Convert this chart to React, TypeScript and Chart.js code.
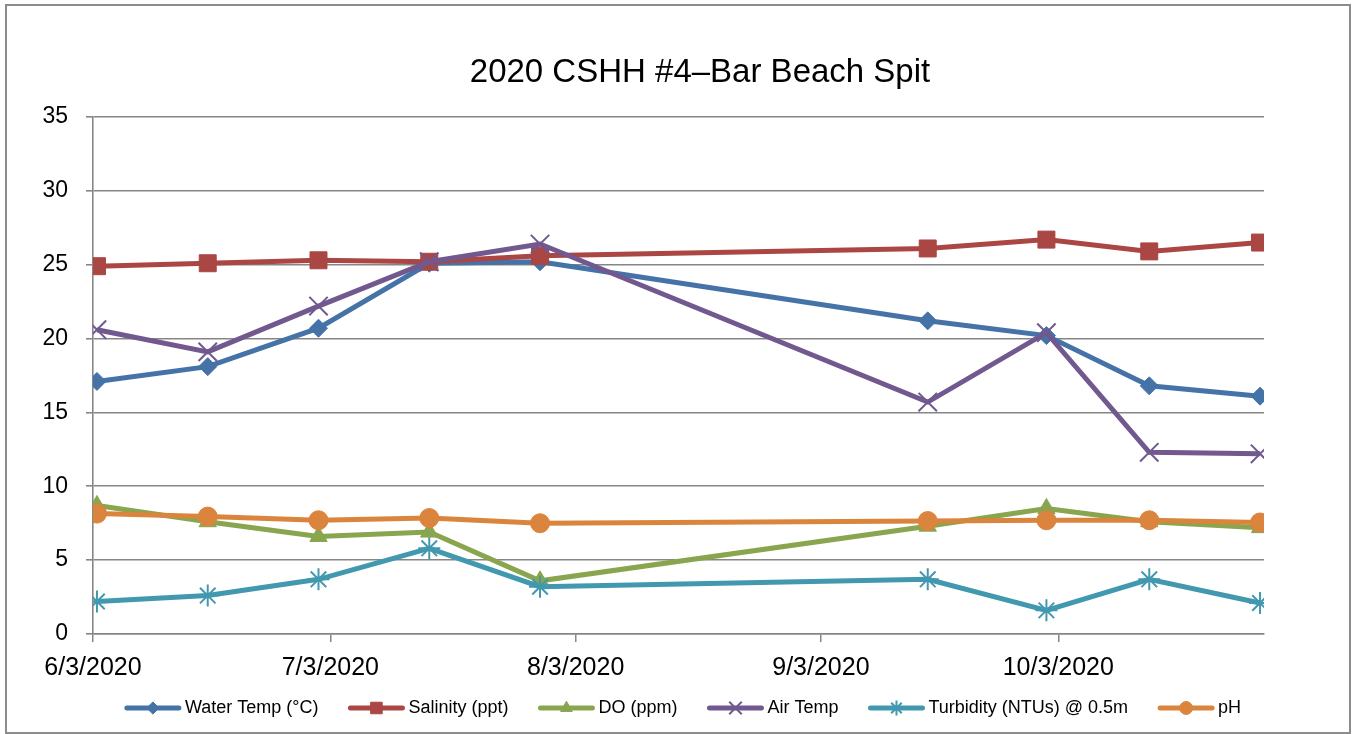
import React, { useEffect, useRef } from 'react';
import { Chart, registerables } from 'chart.js';
import { drawPoint } from 'chart.js/helpers';

Chart.register(...registerables);

const TITLE = '2020 CSHH #4\u2013Bar Beach Spit';
const startDate = '2020-06-03';
const axisEndDate = '2020-10-29';
const sampleDates = ['2020-06-03', '2020-06-17', '2020-07-01', '2020-07-15', '2020-07-29', '2020-09-16', '2020-10-01', '2020-10-14', '2020-10-28'];
const tickDates = ['2020-06-03', '2020-07-03', '2020-08-03', '2020-09-03', '2020-10-03'];
const tickLabels = ['6/3/2020', '7/3/2020', '8/3/2020', '9/3/2020', '10/3/2020'];

const seriesNames = ['Water Temp (\u00B0C)', 'Salinity (ppt)', 'DO (ppm)', 'Air Temp', 'Turbidity (NTUs) @ 0.5m', 'pH'];
const waterTemp = [17.1, 18.1, 20.7, 25.1, 25.2, 21.2, 20.2, 16.8, 16.1];
const salinity = [24.9, 25.1, 25.3, 25.2, 25.6, 26.1, 26.7, 25.9, 26.5];
const dissolvedOxygen = [8.7, 7.6, 6.6, 6.9, 3.6, 7.3, 8.5, 7.6, 7.2];
const airTemp = [20.6, 19.1, 22.2, 25.2, 26.4, 15.7, 20.4, 12.3, 12.2];
const turbidity = [2.2, 2.6, 3.7, 5.8, 3.2, 3.7, 1.6, 3.7, 2.1];
const pH = [8.15, 7.95, 7.7, 7.85, 7.5, 7.65, 7.7, 7.7, 7.55];

const seriesValues = [waterTemp, salinity, dissolvedOxygen, airTemp, turbidity, pH];
const seriesColors = ['#4572A7', '#AA4643', '#89A54E', '#71588F', '#4198AF', '#DB843D'];
const seriesMarkers = ['rectRot', 'rect', 'triangle', 'crossRot', 'star', 'circle'];
const markerRadius = [9, 12, 10, 13, 11, 9.5];
const markerBorder = [1, 1, 1, 2, 2, 1];

const FONT = '"Liberation Sans", Arial, sans-serif';
const GRID = '#868686';

export default function App() {
  const ref = useRef<HTMLCanvasElement>(null);

  useEffect(() => {
    document.body.style.margin = '0';
    const canvas = ref.current!;
    const ctx = canvas.getContext('2d')!;
    const day = (d: string) => (Date.parse(d) - Date.parse(startDate)) / 86400000;
    const xs = sampleDates.map((d) => day(d) + 0.5);
    const tickVals = tickDates.map(day);

    const decor = {
      id: 'decor',
      afterDraw(chart: any) {
        const c = chart.ctx as CanvasRenderingContext2D;
        c.save();
        // title
        c.font = '39px monospace';
        const w0 = c.measureText(TITLE).width;
        c.font = '39px "Liberation Sans Narrow", monospace';
        const w1 = c.measureText(TITLE).width;
        c.font = w0 !== w1 ? '39px "Liberation Sans Narrow"' : '33px "Liberation Sans", Arial, sans-serif';
        c.fillStyle = '#000';
        c.textAlign = 'center';
        c.textBaseline = 'alphabetic';
        c.fillText(TITLE, 700, 82);

        // legend
        c.font = '18px ' + FONT;
        const sampleW = 56;
        const gapLT = 4;
        const gapItem = 30;
        const widths = seriesNames.map((n) => c.measureText(n).width);
        let total = 0;
        widths.forEach((w, i) => {
          total += sampleW + gapLT + w + (i < widths.length - 1 ? gapItem : 0);
        });
        let x = 683 - total / 2;
        const y = 708;
        seriesNames.forEach((name, i) => {
          c.strokeStyle = seriesColors[i];
          c.fillStyle = seriesColors[i];
          c.lineWidth = 5;
          c.lineCap = 'round';
          c.beginPath();
          c.moveTo(x + 2, y);
          c.lineTo(x + sampleW - 2, y);
          c.stroke();
          c.lineCap = 'butt';
          c.lineWidth = markerBorder[i];
          drawPoint(c, { pointStyle: seriesMarkers[i] as any, radius: markerRadius[i] * 0.68, borderWidth: markerBorder[i], rotation: 0 } as any, x + sampleW / 2, y);
          c.fillStyle = '#000';
          c.textAlign = 'left';
          c.textBaseline = 'middle';
          c.fillText(name, x + sampleW + gapLT, y);
          x += sampleW + gapLT + widths[i] + gapItem;
        });
        c.restore();
      },
    };

    const chart = new Chart(ctx, {
      type: 'line',
      data: {
        datasets: seriesNames.map((name, i) => ({
          label: name,
          data: seriesValues[i].map((v, j) => ({ x: xs[j], y: v })),
          borderColor: seriesColors[i],
          backgroundColor: seriesColors[i],
          borderWidth: 5,
          tension: 0,
          pointStyle: seriesMarkers[i] as any,
          pointRadius: markerRadius[i],
          pointHoverRadius: markerRadius[i],
          pointBorderWidth: markerBorder[i],
          pointBackgroundColor: seriesColors[i],
          pointBorderColor: seriesColors[i],
          order: seriesNames.length - i,
          fill: false,
        })),
      },
      options: {
        animation: false,
        responsive: false,
        events: [],
        layout: { padding: { left: 0, top: 117, right: 92, bottom: 50 } },
        plugins: {
          legend: { display: false },
          title: { display: false },
          tooltip: { enabled: false },
        },
        scales: {
          x: {
            type: 'linear',
            min: 0,
            max: day(axisEndDate),
            afterBuildTicks: (s: any) => {
              s.ticks = tickVals.map((v) => ({ value: v }));
            },
            afterFit: (s: any) => {
              s.height = 50;
            },
            ticks: {
              callback: (v: any) => {
                const i = tickVals.indexOf(Number(v));
                return i >= 0 ? tickLabels[i] : '';
              },
              font: { family: FONT, size: 25 },
              color: '#000',
              padding: 11,
              maxRotation: 0,
              autoSkip: false,
            },
            grid: { drawOnChartArea: false, drawTicks: true, tickLength: 8, color: GRID, lineWidth: 1.5 },
            border: { display: true, color: GRID, width: 1.5 },
          },
          y: {
            min: 0,
            max: 35,
            afterFit: (s: any) => {
              s.width = 93;
            },
            ticks: { stepSize: 5, font: { family: FONT, size: 23 }, color: '#000', padding: 18 },
            grid: { color: GRID, lineWidth: 1.6, tickLength: 7 },
            border: { display: true, color: GRID, width: 1.6 },
          },
        },
      },
      plugins: [decor],
    } as any);

    return () => chart.destroy();
  }, []);

  return (
    <div style={{ position: 'relative', width: 1356, height: 734 }}>
      <canvas ref={ref} width={1356} height={734} style={{ display: 'block' }} />
      <div
        style={{
          position: 'absolute',
          left: 5,
          top: 4,
          width: 1346,
          height: 730,
          border: '2px solid #8c8c8c',
          boxSizing: 'border-box',
          pointerEvents: 'none',
        }}
      />
    </div>
  );
}
